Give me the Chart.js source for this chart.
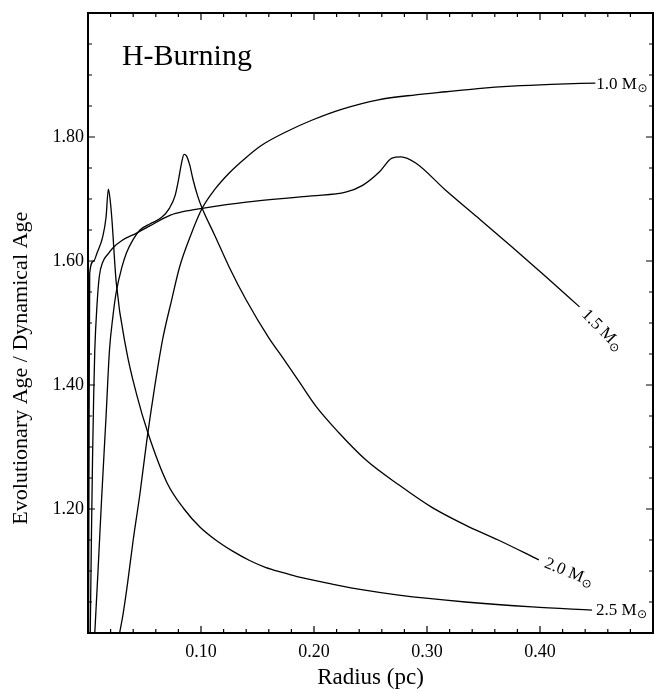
<!DOCTYPE html>
<html>
<head>
<meta charset="utf-8">
<script src="https://cdn.jsdelivr.net/npm/chart.js@4/dist/chart.umd.min.js"></script>
<style>
html,body{margin:0;padding:0;background:#fff;}
#wrap{width:654px;height:689px;}
</style>
</head>
<body>
<div id="wrap"><canvas id="c" width="654" height="689"></canvas></div>
<script>
// ---- data ----
const radius10 = [0.028,0.031,0.035,0.040,0.046,0.052,0.058,0.066,0.074,0.081,0.091,0.101,0.112,0.125,0.140,0.154,0.175,0.198,0.225,0.257,0.290,0.317,0.345,0.375,0.410,0.449];
const age10    = [1.000,1.030,1.080,1.150,1.225,1.310,1.385,1.473,1.537,1.590,1.642,1.685,1.715,1.742,1.767,1.787,1.808,1.827,1.845,1.860,1.868,1.873,1.878,1.882,1.885,1.887];

const radius15 = [0.002,0.003,0.004,0.005,0.006,0.008,0.010,0.013,0.018,0.022,0.030,0.043,0.055,0.073,0.085,0.101,0.140,0.198,0.228,0.243,0.258,0.269,0.277,0.290,0.316,0.345,0.375,0.405,0.435];
const age15    = [1.000,1.150,1.280,1.380,1.456,1.530,1.575,1.598,1.612,1.621,1.633,1.645,1.657,1.674,1.680,1.685,1.695,1.705,1.711,1.722,1.744,1.766,1.768,1.758,1.715,1.670,1.623,1.575,1.526];

const radius20 = [0.006,0.009,0.012,0.016,0.019,0.022,0.025,0.030,0.034,0.040,0.046,0.055,0.065,0.072,0.077,0.080,0.083,0.085,0.087,0.090,0.093,0.097,0.101,0.112,0.125,0.140,0.160,0.172,0.187,0.202,0.222,0.246,0.275,0.304,0.334,0.363,0.399];
const age20    = [1.000,1.105,1.215,1.350,1.456,1.510,1.550,1.590,1.613,1.635,1.650,1.660,1.670,1.685,1.705,1.730,1.760,1.772,1.770,1.755,1.731,1.705,1.685,1.642,1.590,1.537,1.476,1.445,1.405,1.365,1.323,1.279,1.239,1.203,1.174,1.150,1.118];

const radius25 = [0.0005,0.001,0.0015,0.005,0.008,0.013,0.016,0.018,0.0195,0.021,0.025,0.034,0.043,0.053,0.070,0.085,0.099,0.113,0.128,0.143,0.157,0.171,0.185,0.216,0.245,0.275,0.334,0.393,0.446];
const age25    = [1.000,1.350,1.580,1.600,1.613,1.639,1.671,1.716,1.700,1.671,1.565,1.456,1.385,1.323,1.242,1.200,1.171,1.150,1.132,1.117,1.106,1.098,1.091,1.079,1.069,1.061,1.050,1.042,1.037];

const massLabels = ['1.0', '1.5', '2.0', '2.5'];
const xTickLabels = ['0.10', '0.20', '0.30', '0.40'];
const yTickLabels = ['1.20', '1.40', '1.60', '1.80'];
const panelTitle = 'H-Burning';
const xTitle = 'Radius (pc)';
const yTitle = 'Evolutionary Age / Dynamical Age';

// ---- build ----
const SERIF = '"Liberation Serif", "Times New Roman", serif';
function pts(xs, ys){ return xs.map((x,i)=>({x:x, y:ys[i]})); }
const series = [pts(radius10,age10), pts(radius15,age15), pts(radius20,age20), pts(radius25,age25)];

const datasets = series.map((d,i)=>({
  label: massLabels[i] + ' M\u2299',
  data: d,
  borderColor: '#000',
  borderWidth: 1.3,
  pointRadius: 0,
  fill: false,
  cubicInterpolationMode: 'monotone'
}));

// label styling: [angle (deg), dx, dy] relative to the curve end in rotated frame
const labelStyle = [[0, 1, 6], [45, 7, 5], [22, 7, 5], [0, 4, 5]];

const framePlugin = {
  id: 'frame',
  afterDraw(chart){
    const ctx = chart.ctx, a = chart.chartArea;
    const xs = chart.scales.x, ys = chart.scales.y;
    ctx.save();
    ctx.strokeStyle = '#000';
    // ticks (inward on all four sides)
    ctx.lineWidth = 1.2;
    xs.ticks.forEach(t=>{
      const px = xs.getPixelForValue(t.value);
      const major = xTickLabels.includes(t.value.toFixed(2));
      const len = major ? 7 : 4;
      ctx.beginPath();
      ctx.moveTo(px, a.bottom); ctx.lineTo(px, a.bottom - len);
      ctx.moveTo(px, a.top); ctx.lineTo(px, a.top + len);
      ctx.stroke();
    });
    ys.ticks.forEach(t=>{
      const py = ys.getPixelForValue(t.value);
      const major = yTickLabels.includes(t.value.toFixed(2));
      const len = major ? 7 : 4;
      ctx.beginPath();
      ctx.moveTo(a.left, py); ctx.lineTo(a.left + len, py);
      ctx.moveTo(a.right, py); ctx.lineTo(a.right - len, py);
      ctx.stroke();
    });
    // frame
    ctx.lineWidth = 2;
    ctx.strokeRect(a.left, a.top, a.right - a.left, a.bottom - a.top);

    ctx.fillStyle = '#000';
    // y-axis title (rotated)
    ctx.save();
    ctx.translate(21, ys.getPixelForValue(1.427));
    ctx.rotate(-Math.PI/2);
    ctx.font = '22px ' + SERIF;
    ctx.textAlign = 'center';
    ctx.textBaseline = 'middle';
    ctx.fillText(yTitle, 0, 0);
    ctx.restore();

    // panel title
    ctx.font = '30px ' + SERIF;
    ctx.textAlign = 'left';
    ctx.textBaseline = 'alphabetic';
    ctx.fillText(panelTitle, xs.getPixelForValue(0.030), ys.getPixelForValue(1.916));

    // mass labels at curve ends
    series.forEach((d,i)=>{
      const last = d[d.length-1];
      const px = xs.getPixelForValue(last.x), py = ys.getPixelForValue(last.y);
      const [ang, dx, dy] = labelStyle[i];
      ctx.save();
      ctx.translate(px, py);
      ctx.rotate(ang*Math.PI/180);
      ctx.font = '17px ' + SERIF;
      ctx.textAlign = 'left';
      ctx.textBaseline = 'alphabetic';
      const txt = massLabels[i] + ' M';
      ctx.fillText(txt, dx, dy);
      const w = ctx.measureText(txt).width;
      ctx.font = '12px "DejaVu Sans", sans-serif';
      ctx.fillText('\u2299', dx + w + 0.5, dy + 3);
      ctx.restore();
    });
    ctx.restore();
  }
};

new Chart(document.getElementById('c'), {
  type: 'line',
  data: { datasets },
  options: {
    responsive: false,
    animation: false,
    layout: { padding: { top: 13, right: 1, left: 0, bottom: 0 } },
    plugins: { legend: { display: false }, tooltip: { enabled: false } },
    scales: {
      x: {
        type: 'linear', min: 0, max: 0.5,
        grid: { display: false, drawTicks: false },
        border: { display: false },
        ticks: {
          stepSize: 0.02, autoSkip: false, maxRotation: 0, padding: 8,
          color: '#000', font: { family: SERIF, size: 18 },
          callback: (v) => { const s = Number(v).toFixed(2); return xTickLabels.includes(s) ? s : ''; }
        },
        title: { display: true, text: xTitle, color: '#000',
          font: { family: SERIF, size: 23, lineHeight: 1 }, padding: { top: 0, bottom: 0 } },
        afterFit: (s) => { s.height = 56; s.paddingLeft = 0; s.paddingRight = 0; }
      },
      y: {
        type: 'linear', min: 1.0, max: 2.0,
        grid: { display: false, drawTicks: false },
        border: { display: false },
        ticks: {
          stepSize: 0.05, autoSkip: false, padding: 4,
          color: '#000', font: { family: SERIF, size: 18 },
          callback: (v) => { const s = Number(v).toFixed(2); return yTickLabels.includes(s) ? s : ''; }
        },
        title: { display: false },
        afterFit: (s) => { s.width = 88; s.paddingTop = 0; s.paddingBottom = 0; }
      }
    }
  },
  plugins: [framePlugin]
});
</script>
</body>
</html>
